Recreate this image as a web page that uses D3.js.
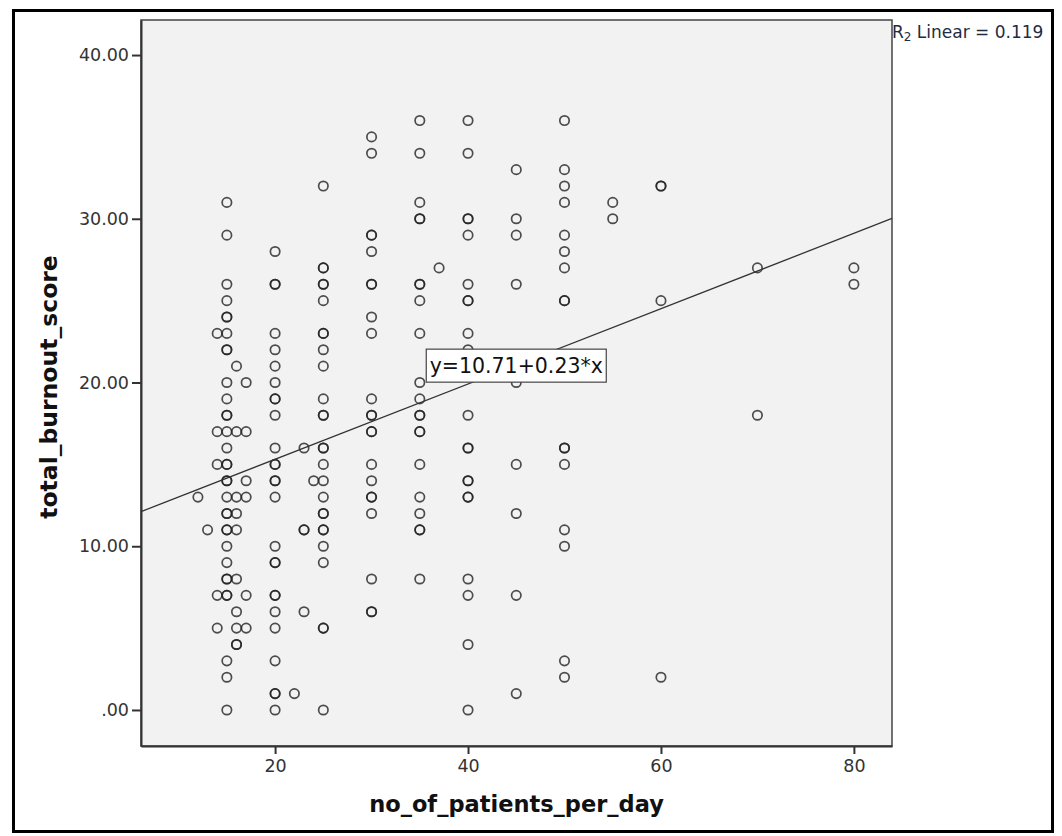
<!DOCTYPE html>
<html>
<head>
<meta charset="utf-8">
<script src="https://cdn.jsdelivr.net/npm/d3@7"></script>
<style>
  body { margin: 0; background: #fff; }
  text { font-family: "DejaVu Sans", sans-serif; }
</style>
</head>
<body>
<div id="chart"></div>
<script>
// patients per day (x) and the burnout scores seen at each x value
// repeated scores = overlapping (darker) circles in the original
const patientGroups = [12, 13, 14, 15, 16, 17, 20, 22, 23, 24, 25, 30, 35, 37, 40, 45, 50, 55, 60, 70, 80];
const burnoutByGroup = [
    [13],
    [11],
    [23, 17, 15, 7, 5],
    [31, 29, 26, 25, 24, 24, 23, 22, 22, 20, 19, 18, 18, 17, 16, 15, 15, 14, 14, 13, 12, 12, 11, 11, 10, 9, 8, 8, 7, 7, 3, 2, 0],
    [21, 17, 13, 12, 11, 8, 6, 5, 4, 4],
    [20, 17, 14, 13, 7, 5],
    [28, 26, 26, 23, 22, 21, 20, 19, 19, 18, 16, 15, 15, 14, 14, 13, 10, 9, 9, 7, 7, 6, 5, 3, 1, 1, 0],
    [1],
    [16, 11, 11, 6],
    [14],
    [32, 27, 27, 26, 26, 25, 23, 23, 22, 21, 19, 18, 18, 16, 16, 15, 14, 13, 12, 12, 11, 11, 10, 9, 5, 5, 0],
    [35, 34, 29, 29, 28, 26, 26, 24, 23, 19, 18, 18, 17, 17, 15, 14, 13, 13, 12, 8, 6, 6],
    [36, 34, 31, 30, 30, 26, 26, 25, 23, 20, 19, 18, 18, 17, 17, 15, 13, 12, 11, 11, 8],
    [27],
    [36, 34, 30, 30, 29, 26, 25, 25, 23, 22, 18, 16, 16, 14, 14, 13, 13, 8, 7, 4, 0],
    [33, 30, 29, 26, 20, 15, 12, 7, 1],
    [36, 33, 32, 31, 29, 28, 27, 25, 25, 16, 16, 15, 11, 10, 3, 2],
    [31, 30],
    [32, 32, 25, 2],
    [27, 18],
    [27, 26]
];

const xTicks = [20, 40, 60, 80];
const yTicks = [0, 10, 20, 30, 40];

// fit line as reported by the chart
const fitIntercept = 10.71;
const fitSlope = 0.23;
const fitLabel = 'y=10.71+0.23*x';
const rSquared = '0.119';

const xTitle = 'no_of_patients_per_day';
const yTitle = 'total_burnout_score';

const points = [];
patientGroups.forEach((p, i) => {
    burnoutByGroup[i].forEach(b => points.push({ x: p, y: b }));
});

const width = 1062;
const height = 836;
const plot = { left: 141, top: 20, right: 892, bottom: 746 };

const svg = d3.select('#chart')
    .append('svg')
    .attr('width', width)
    .attr('height', height);

svg.append('rect')
    .attr('width', width)
    .attr('height', height)
    .attr('fill', '#fff');

// outer frame
svg.append('rect')
    .attr('x', 13.5)
    .attr('y', 10.5)
    .attr('width', 1039)
    .attr('height', 821)
    .attr('fill', 'none')
    .attr('stroke', '#000')
    .attr('stroke-width', 3);

const xScale = d3.scaleLinear()
    .domain([6.1, 83.95])
    .range([plot.left, plot.right]);

const yScale = d3.scaleLinear()
    .domain([-2.2, 42.14])
    .range([plot.bottom, plot.top]);

svg.append('rect')
    .attr('x', plot.left)
    .attr('y', plot.top)
    .attr('width', plot.right - plot.left)
    .attr('height', plot.bottom - plot.top)
    .attr('fill', '#f2f2f2')
    .attr('stroke', '#444')
    .attr('stroke-width', 1.5);

const yAxis = d3.axisLeft(yScale)
    .tickValues(yTicks)
    .tickSize(9)
    .tickSizeOuter(0)
    .tickPadding(3)
    .tickFormat(d => d === 0 ? '.00' : d.toFixed(2));

const yAxisG = svg.append('g')
    .attr('transform', `translate(${plot.left}, 0)`)
    .call(yAxis);

const xAxis = d3.axisBottom(xScale)
    .tickValues(xTicks)
    .tickSize(8)
    .tickSizeOuter(0)
    .tickPadding(6)
    .tickFormat(d3.format('d'));

const xAxisG = svg.append('g')
    .attr('transform', `translate(0, ${plot.bottom})`)
    .call(xAxis);

[xAxisG, yAxisG].forEach(g => {
    g.select('.domain').attr('stroke', '#333').attr('stroke-width', 2);
    g.selectAll('.tick line').attr('stroke', '#333').attr('stroke-width', 2);
    g.selectAll('.tick text')
        .attr('fill', '#333')
        .style('font-size', '17.5px')
        .style('font-family', '"DejaVu Sans", sans-serif');
});

// scatter points
svg.append('g')
    .selectAll('circle')
    .data(points)
    .enter()
    .append('circle')
    .attr('cx', d => xScale(d.x))
    .attr('cy', d => yScale(d.y))
    .attr('r', 4.7)
    .attr('fill', 'none')
    .attr('stroke', '#222')
    .attr('stroke-opacity', 0.8)
    .attr('stroke-width', 1.7);

// fit line across the plot
const xDom = xScale.domain();
svg.append('line')
    .attr('x1', xScale(xDom[0]))
    .attr('y1', yScale(fitIntercept + fitSlope * xDom[0]))
    .attr('x2', xScale(xDom[1]))
    .attr('y2', yScale(fitIntercept + fitSlope * xDom[1]))
    .attr('stroke', '#333')
    .attr('stroke-width', 1.3);

// fit label box, centred on the line at x = 45
const labelX = xScale(45);
const labelY = yScale(fitIntercept + fitSlope * 45);
svg.append('rect')
    .attr('x', labelX - 90)
    .attr('y', labelY - 16)
    .attr('width', 180)
    .attr('height', 33)
    .attr('fill', '#fff')
    .attr('stroke', '#444')
    .attr('stroke-width', 1.2);

svg.append('text')
    .attr('x', labelX)
    .attr('y', labelY + 8)
    .attr('text-anchor', 'middle')
    .attr('fill', '#111')
    .style('font-size', '20.5px')
    .text(fitLabel);

// R squared note
const rText = svg.append('text')
    .attr('x', 892)
    .attr('y', 38)
    .attr('fill', '#1d2c44')
    .style('font-size', '17px');
rText.append('tspan').text('R');
rText.append('tspan').attr('dy', 3).style('font-size', '12px').text('2');
rText.append('tspan').attr('dy', -3).text(` Linear = ${rSquared}`);

// axis titles
svg.append('text')
    .attr('x', (plot.left + plot.right) / 2)
    .attr('y', 812)
    .attr('text-anchor', 'middle')
    .attr('fill', '#111')
    .style('font-size', '22.5px')
    .style('font-weight', 'bold')
    .text(xTitle);

svg.append('text')
    .attr('transform', `translate(57, ${(plot.top + plot.bottom) / 2 + 4}) rotate(-90)`)
    .attr('text-anchor', 'middle')
    .attr('fill', '#111')
    .style('font-size', '23.5px')
    .style('font-weight', 'bold')
    .text(yTitle);
</script>
</body>
</html>
